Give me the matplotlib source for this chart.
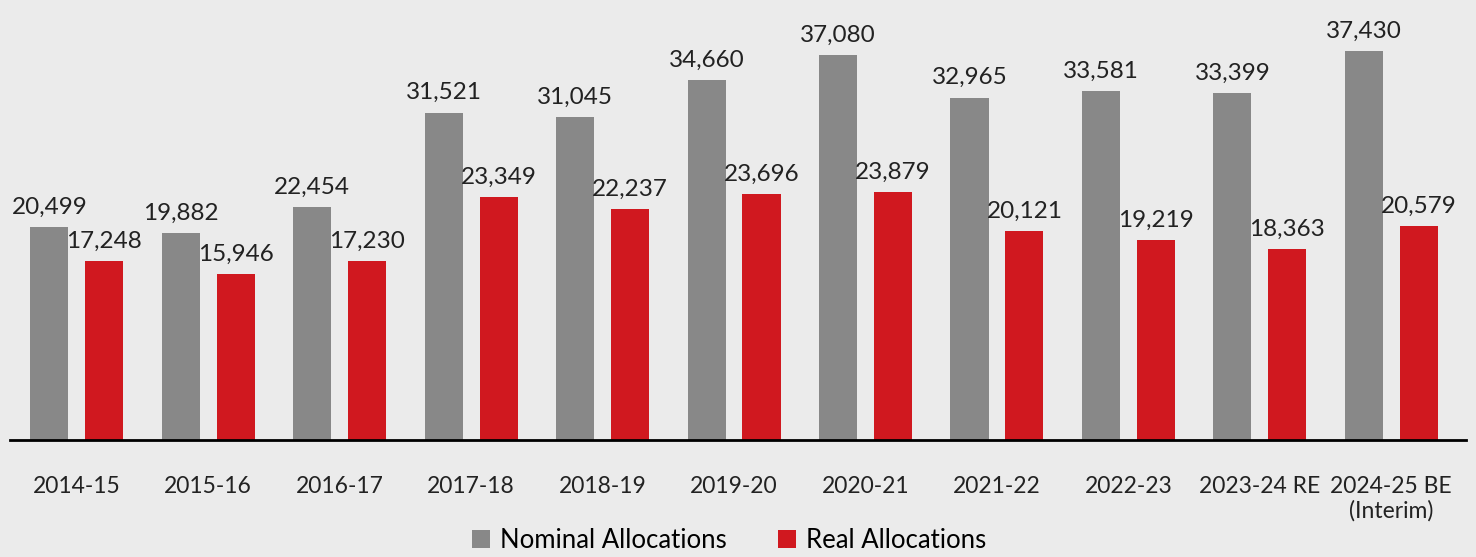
import numpy as np
import matplotlib.pyplot as plt

years = ["2014-15", "2015-16", "2016-17", "2017-18", "2018-19", "2019-20",
         "2020-21", "2021-22", "2022-23", "2023-24 RE", "2024-25 BE\n(Interim)"]
nominal = [20499, 19882, 22454, 31521, 31045, 34660, 37080, 32965, 33581, 33399, 37430]
real = [17248, 15946, 17230, 23349, 22237, 23696, 23879, 20121, 19219, 18363, 20579]

plt.rcParams["font.family"] = ["Lato", "DejaVu Sans"]

fig = plt.figure(figsize=(14.76, 5.57), dpi=100, facecolor="#ebebeb")
ax = fig.add_axes([0.007, 0.21, 0.986, 0.79])
ax.set_facecolor("#ebebeb")

x = np.arange(len(years))
w = 0.29
off = 0.209
b1 = ax.bar(x - off, nominal, w, color="#888888", label="Nominal Allocations")
b2 = ax.bar(x + off, real, w, color="#d0181f", label="Real Allocations")

for bars, vals in ((b1, nominal), (b2, real)):
    for b, v in zip(bars, vals):
        ax.text(b.get_x() + b.get_width() / 2, v + 900, f"{v:,}",
                ha="center", va="bottom", fontsize=17.5, color="#222222")

ax.set_xlim(-0.506, 10.566)
ax.set_ylim(0, 42350)
ax.set_yticks([])
ax.set_xticks(x)
ax.set_xticklabels(years, fontsize=16.5, color="#222222", linespacing=1.15)
ax.tick_params(axis="x", length=0, pad=26)
for s in ("top", "right", "left"):
    ax.spines[s].set_visible(False)
ax.spines["bottom"].set_linewidth(2)
ax.spines["bottom"].set_color("black")

fig.legend(loc="lower center", bbox_to_anchor=(0.494, -0.035), ncol=2, frameon=False,
           fontsize=18.5, handlelength=0.7, handleheight=0.7, handletextpad=0.4,
           columnspacing=2.0)

fig.savefig("out.png", dpi=100, facecolor=fig.get_facecolor())
